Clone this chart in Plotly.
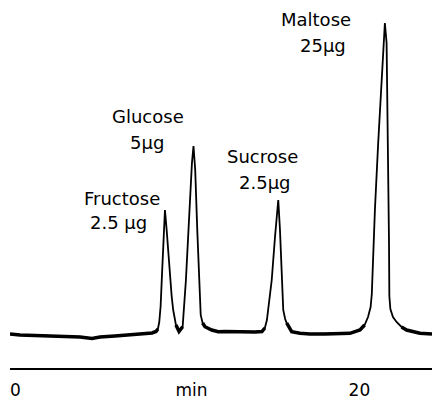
import plotly.graph_objects as go

# Retention time (min) and detector signal (arbitrary units, baseline ~ 0)
time_min = [-0.32, 0.26, 1.13, 2.01, 2.88, 3.75, 4.45, 4.91, 5.78, 6.66, 7.53, 7.94, 8.17,
            8.28, 8.36, 8.44, 8.52, 8.60, 8.69, 8.79, 8.94, 9.08, 9.17, 9.33, 9.51,
            9.72, 9.91, 10.10, 10.26, 10.35, 10.45, 10.57, 10.69, 10.77, 10.88, 11.02, 11.41, 11.79,
            12.18, 13.05, 13.92, 14.33,
            14.50, 14.62, 14.75, 14.90, 15.09, 15.22, 15.28, 15.38, 15.48, 15.57, 15.68, 15.77,
            16.06, 16.54,
            17.12, 17.99, 18.87, 19.45,
            20.03, 20.30, 20.50, 20.65, 20.72, 20.90, 21.09, 21.29, 21.42, 21.48, 21.58, 21.64,
            21.67, 21.72, 21.74, 21.80, 21.95, 22.16, 22.45, 22.74, 23.52, 24.22]
signal = [0, -1, -1.5, -2, -2.5, -3, -4.5, -3, -2, -1, 0.5, 1, 2.5,
          5, 12, 28, 60, 98, 124, 104, 64, 38, 24, 9, 2.5,
          7.3, 54, 121, 171, 188, 164, 104, 44, 19, 11, 7.3, 4, 2.3,
          2.5, 2, 2, 2.5,
          6, 14, 32, 54, 97, 127, 134, 104, 54, 24, 15, 11,
          2.3, 0.7,
          0, 0, 0.5, 0.7,
          4, 9, 17, 27, 40, 124, 191, 257, 304, 311, 291, 224,
          157, 91, 38, 25, 17, 12, 7, 4, 0.7, 0]

# Peak labels
peak_names = ["Fructose", "Glucose", "Sucrose", "Maltose"]
peak_amounts = ["2.5 µg", "5µg", "2.5µg", "25µg"]
name_pos = [(6.17, 136), (7.72, 217.5), (14.39, 178), (17.45, 315)]
amount_pos = [(5.98, 111.5), (7.67, 191.5), (14.51, 151.5), (17.88, 289)]

# Axis tick labels
tick_vals = [0, 10.23, 20]
tick_text = ["0", "min", "20"]

FONT = "DejaVu Sans"

fig = go.Figure()
fig.add_trace(go.Scatter(x=time_min, y=signal, mode="lines",
                         line=dict(color="black", width=1.8), hoverinfo="skip"))
# thicker noisy baseline look
base_y = [s if s < 12 else None for s in signal]
fig.add_trace(go.Scatter(x=time_min, y=base_y, mode="lines", connectgaps=False,
                         line=dict(color="black", width=3.5), hoverinfo="skip"))

annotations = []
for name, (x, y) in zip(peak_names, name_pos):
    annotations.append(dict(x=x, y=y, xref="x", yref="y", text=name, showarrow=False,
                            font=dict(family=FONT, size=18, color="black"),
                            xanchor="center", yanchor="middle"))
for amt, (x, y) in zip(peak_amounts, amount_pos):
    annotations.append(dict(x=x, y=y, xref="x", yref="y", text=amt, showarrow=False,
                            font=dict(family=FONT, size=18, color="black"),
                            xanchor="center", yanchor="middle"))

fig.update_layout(
    width=435, height=400,
    margin=dict(l=10, r=3, t=10, b=32),
    paper_bgcolor="white", plot_bgcolor="white",
    showlegend=False,
    annotations=annotations,
    xaxis=dict(range=[-0.32, 24.22], showgrid=False, zeroline=False,
               showline=True, linecolor="black", linewidth=1.5,
               tickvals=tick_vals, ticktext=tick_text, ticks="",
               ticklabelstandoff=6, automargin=False,
               tickfont=dict(family=FONT, size=17, color="black")),
    yaxis=dict(range=[-34, 324], showgrid=False, zeroline=False, showline=False,
               showticklabels=False, ticks="", automargin=False),
)

fig.write_html("out.html")
